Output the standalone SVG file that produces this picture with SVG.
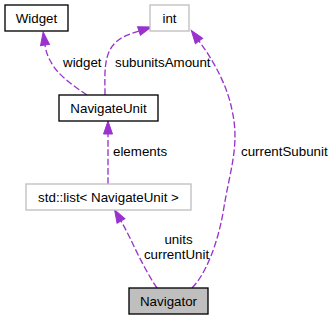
<svg xmlns="http://www.w3.org/2000/svg" width="331" height="320" viewBox="0 0 331 320">
  <style>
    text { font-family: "Liberation Sans", Arial, Helvetica, sans-serif; font-size: 13.33px; fill: #000; }
    .node text { text-anchor: middle; }
    .box { fill: #fff; stroke: #000; stroke-width: 1.33; }
    .ext { fill: #fff; stroke: #bfbfbf; stroke-width: 1.33; }
    .self { fill: #bfbfbf; stroke: #000; stroke-width: 1.33; }
    .edge { fill: none; stroke: #9a32cd; stroke-width: 1.33; stroke-dasharray: 6.67,2.67; marker-end: url(#head); }
  </style>
  <defs>
    <marker id="head" markerUnits="userSpaceOnUse" markerWidth="14" markerHeight="10" refX="0" refY="4.5" orient="auto" overflow="visible">
      <path d="M0,0 L13,4.5 L0,9 Z" fill="#9a32cd" stroke="#9a32cd" stroke-width="1"/>
    </marker>
  </defs>

  <g id="connectors">
    <!-- NavigateUnit::widget -> Widget -->
    <path class="edge" d="M87,95 C72,85 57,74 51,62 C48,57 46,52 45,45"/>
    <!-- NavigateUnit::subunitsAmount -> int -->
    <path class="edge" d="M105,95 C105,75 103,55 115,43 C122,36 130,34 139,31"/>
    <!-- Navigator::currentSubunit -> int -->
    <path class="edge" d="M192,288 C205,275 218,245 224,207 C230,170 240,145 232,110 C228,90 218,67 199,41"/>
    <!-- std::list elements -> NavigateUnit -->
    <path class="edge" d="M108,184 L108,134"/>
    <!-- Navigator::units / currentUnit -> std::list -->
    <path class="edge" d="M157,288 C148,275 138,255 130,238 C127,232 125,228 121,221"/>

    <text x="63" y="67">widget</text>
    <text x="115" y="67">subunitsAmount</text>
    <text x="241" y="156">currentSubunit</text>
    <text x="113" y="156">elements</text>
    <text x="178.5" y="244" text-anchor="middle">units</text>
    <text x="176.5" y="259" text-anchor="middle">currentUnit</text>
  </g>

  <g id="Widget" class="node">
    <rect class="box" x="5" y="5" width="63" height="26"/>
    <text x="36.5" y="22.5">Widget</text>
  </g>
  <g id="int" class="node">
    <rect class="ext" x="150" y="5" width="39" height="26"/>
    <text x="169.5" y="22.5">int</text>
  </g>
  <g id="NavigateUnit" class="node">
    <rect class="box" x="59" y="95" width="99" height="26"/>
    <text x="108.5" y="112.5">NavigateUnit</text>
  </g>
  <g id="StdListNavigateUnit" class="node">
    <rect class="ext" x="26" y="184" width="165" height="26"/>
    <text x="108.5" y="201.5">std::list&lt; NavigateUnit &gt;</text>
  </g>
  <g id="Navigator" class="node">
    <rect class="self" x="129" y="288" width="79" height="26"/>
    <text x="168.5" y="305.5">Navigator</text>
  </g>
</svg>
